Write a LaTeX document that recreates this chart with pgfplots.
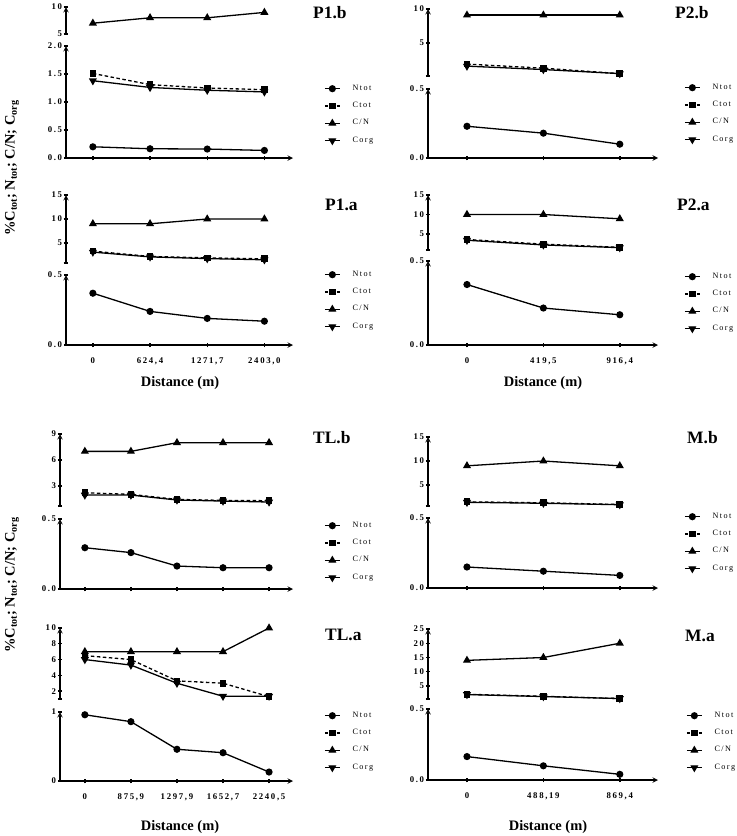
\documentclass[border=0pt]{standalone}
\usepackage{fontspec}
\setmainfont{Liberation Serif}
\newfontfamily\tickfont[LetterSpace=19]{Liberation Serif}
\newfontfamily\legfont[LetterSpace=18]{Liberation Serif}
\usepackage{pgfplots}
\pgfplotsset{compat=1.18}
\pgfplotsset{
  brk/.style={scale only axis, clip=false,
    axis line style={line width=1.4bp,-},
    tick style={line width=1.4bp, black}, tick align=outside, major tick length=4.5bp,
    yticklabel style={font=\tickfont\bfseries\fontsize{8.8}{9}\selectfont, inner sep=1.5bp},
    xticklabel style={font=\tickfont\bfseries\fontsize{8.8}{9}\selectfont, inner sep=2bp, yshift=-8bp},
    /pgf/number format/assume math mode=true},
  up/.style={brk, axis y line=left, axis x line=none},
  low/.style={brk, axis lines=left,
    legend style={draw=none, fill=none, inner sep=0pt, anchor=north west,
      at={(axis description cs:0,0)}, font=\legfont\fontsize{8.2}{9}\selectfont,
      row sep=8.3bp, nodes={inner sep=0pt, text height=6bp, text depth=3bp},
      /tikz/every odd column/.append style={column sep=12bp}},
    legend cell align=left,
    legend image code/.code={%
      \draw[##1, draw=black, mark=none] (0bp,0bp) -- (15bp,0bp);
      \draw[##1, draw=black] plot coordinates {(7.5bp,0bp)};}},
  ntot/.style={black, line width=1.3bp, solid, mark=*, mark size=2.9bp},
  ctot/.style={black, line width=1.3bp, dash pattern=on 3.5bp off 2.5bp, mark=square*, mark size=2.7bp, mark options={solid}},
  cn/.style={black, line width=1.3bp, solid, mark=triangle*, mark size=3.4bp},
  corg/.style={black, line width=1.3bp, solid, mark=triangle*, mark size=3.4bp, mark options={rotate=180}},
}
\begin{document}
\begin{tikzpicture}
\path[use as bounding box] (0,0) rectangle (737bp,-836bp);

% ---------------- P1.b
\begin{axis}[up, at={(66bp,-34bp)}, anchor=south west, width=227bp, height=27bp,
  xmin=-0.47, xmax=3.5, ymin=5, ymax=10, ytick={5,10}, yticklabels={5,10}]
\addplot[cn] coordinates {(0,7) (1,8) (2,8) (3,9)};
\end{axis}
\begin{axis}[low, at={(66bp,-158bp)}, anchor=south west, width=227bp, height=112bp,
  xmin=-0.47, xmax=3.5, ymin=0, ymax=2, ytick={0,0.5,1,1.5,2}, yticklabels={0.0,0.5,1.0,1.5,2.0},
  xtick={0,1,2,3}, xticklabels={,,,}, legend style={xshift=258bp, yshift=74bp}]
\addplot[ntot] coordinates {(0,0.20) (1,0.165) (2,0.16) (3,0.135)};
\addplot[ctot] coordinates {(0,1.51) (1,1.31) (2,1.25) (3,1.22)};
\addlegendimage{cn}
\addplot[corg] coordinates {(0,1.38) (1,1.26) (2,1.21) (3,1.18)};
\legend{Ntot,Ctot,C/N,Corg}
\end{axis}

% ---------------- P1.a
\begin{axis}[up, at={(66bp,-263bp)}, anchor=south west, width=227bp, height=68bp,
  xmin=-0.47, xmax=3.5, ymin=0.83, ymax=15, ytick={0.83,5,10,15}, yticklabels={,5,10,15}]
\addplot[ctot] coordinates {(0,3.3) (1,2.2) (2,1.9) (3,1.7)};
\addplot[cn] coordinates {(0,9) (1,9) (2,10) (3,10)};
\addplot[corg] coordinates {(0,3.1) (1,2.1) (2,1.75) (3,1.5)};
\end{axis}
\begin{axis}[low, at={(66bp,-345bp)}, anchor=south west, width=227bp, height=70bp,
  xmin=-0.47, xmax=3.5, ymin=0, ymax=0.5, ytick={0,0.5}, yticklabels={0.0,0.5},
  xtick={0,1,2,3}, xticklabels={0,{624,4},{1271,7},{2403,0}}, legend style={xshift=258bp, yshift=75bp}]
\addplot[ntot] coordinates {(0,0.37) (1,0.24) (2,0.19) (3,0.17)};
\addlegendimage{ctot}
\addlegendimage{cn}
\addlegendimage{corg}
\legend{Ntot,Ctot,C/N,Corg}
\end{axis}

% ---------------- P2.b
\begin{axis}[up, at={(428bp,-76bp)}, anchor=south west, width=230bp, height=67bp,
  xmin=-0.51, xmax=2.5, ymin=0.15, ymax=10, ytick={0.15,5,10}, yticklabels={,5,10}]
\addplot[ctot] coordinates {(0,1.9) (1,1.3) (2,0.5)};
\addplot[cn] coordinates {(0,9.1) (1,9.1) (2,9.1)};
\addplot[corg] coordinates {(0,1.6) (1,1.1) (2,0.5)};
\end{axis}
\begin{axis}[low, at={(428bp,-158bp)}, anchor=south west, width=230bp, height=69bp,
  xmin=-0.51, xmax=2.5, ymin=0, ymax=0.5, ytick={0,0.5}, yticklabels={0.0,0.5},
  xtick={0,1,2}, xticklabels={,,}, legend style={xshift=256bp, yshift=75bp}]
\addplot[ntot] coordinates {(0,0.23) (1,0.18) (2,0.10)};
\addlegendimage{ctot}
\addlegendimage{cn}
\addlegendimage{corg}
\legend{Ntot,Ctot,C/N,Corg}
\end{axis}

% ---------------- P2.a
\begin{axis}[up, at={(428bp,-250bp)}, anchor=south west, width=230bp, height=55bp,
  xmin=-0.51, xmax=2.5, ymin=0.9, ymax=15, ytick={0.9,5,10,15}, yticklabels={,5,10,15}]
\addplot[ctot] coordinates {(0,3.6) (1,2.4) (2,1.6)};
\addplot[cn] coordinates {(0,10) (1,10) (2,8.9)};
\addplot[corg] coordinates {(0,3.4) (1,2.2) (2,1.5)};
\end{axis}
\begin{axis}[low, at={(428bp,-345bp)}, anchor=south west, width=230bp, height=84bp,
  xmin=-0.51, xmax=2.5, ymin=0, ymax=0.5, ytick={0,0.5}, yticklabels={0.0,0.5},
  xtick={0,1,2}, xticklabels={0,{419,5},{916,4}}, legend style={xshift=256bp, yshift=73bp}]
\addplot[ntot] coordinates {(0,0.36) (1,0.22) (2,0.18)};
\addlegendimage{ctot}
\addlegendimage{cn}
\addlegendimage{corg}
\legend{Ntot,Ctot,C/N,Corg}
\end{axis}

% ---------------- TL.b
\begin{axis}[up, at={(60bp,-506bp)}, anchor=south west, width=233bp, height=72bp,
  xmin=-0.54, xmax=4.52, ymin=0.7, ymax=9, ytick={0.7,3,6,9}, yticklabels={,3,6,9}]
\addplot[ctot] coordinates {(0,2.23) (1,2.04) (2,1.46) (3,1.35) (4,1.31)};
\addplot[cn] coordinates {(0,7) (1,7) (2,8) (3,8) (4,8)};
\addplot[corg] coordinates {(0,1.96) (1,1.96) (2,1.39) (3,1.27) (4,1.16)};
\end{axis}
\begin{axis}[low, at={(60bp,-589bp)}, anchor=south west, width=233bp, height=70bp,
  xmin=-0.54, xmax=4.52, ymin=0, ymax=0.5, ytick={0,0.5}, yticklabels={0.0,0.5},
  xtick={0,1,2,3,4}, xticklabels={,,,,}, legend style={xshift=264bp, yshift=68bp}]
\addplot[ntot] coordinates {(0,0.295) (1,0.26) (2,0.164) (3,0.152) (4,0.152)};
\addlegendimage{ctot}
\addlegendimage{cn}
\addlegendimage{corg}
\legend{Ntot,Ctot,C/N,Corg}
\end{axis}

% ---------------- TL.a
\begin{axis}[up, at={(60bp,-699bp)}, anchor=south west, width=233bp, height=71bp,
  xmin=-0.54, xmax=4.52, ymin=1, ymax=10, ytick={1,2,4,6,8,10}, yticklabels={,2,4,6,8,10}]
\addplot[ctot] coordinates {(0,6.5) (1,6.0) (2,3.3) (3,3.0) (4,1.3)};
\addplot[cn] coordinates {(0,7) (1,7) (2,7) (3,7) (4,10)};
\addplot[corg] coordinates {(0,6.0) (1,5.3) (2,3.0) (3,1.35) (4,1.35)};
\end{axis}
\begin{axis}[low, at={(60bp,-781bp)}, anchor=south west, width=233bp, height=69bp,
  xmin=-0.54, xmax=4.52, ymin=0, ymax=1, ytick={0,1}, yticklabels={0,1},
  xtick={0,1,2,3,4}, xticklabels={0,{875,9},{1297,9},{1652,7},{2240,5}}, legend style={xshift=264bp, yshift=70bp}]
\addplot[ntot] coordinates {(0,0.96) (1,0.86) (2,0.46) (3,0.41) (4,0.13)};
\addlegendimage{ctot}
\addlegendimage{cn}
\addlegendimage{corg}
\legend{Ntot,Ctot,C/N,Corg}
\end{axis}

% ---------------- M.b
\begin{axis}[up, at={(428bp,-506bp)}, anchor=south west, width=230bp, height=69bp,
  xmin=-0.51, xmax=2.5, ymin=0.63, ymax=15, ytick={0.63,5,10,15}, yticklabels={,5,10,15}]
\addplot[ctot] coordinates {(0,1.5) (1,1.3) (2,0.95)};
\addplot[cn] coordinates {(0,9) (1,10) (2,9)};
\addplot[corg] coordinates {(0,1.4) (1,1.2) (2,0.9)};
\end{axis}
\begin{axis}[low, at={(428bp,-588bp)}, anchor=south west, width=230bp, height=70bp,
  xmin=-0.51, xmax=2.5, ymin=0, ymax=0.5, ytick={0,0.5}, yticklabels={0.0,0.5},
  xtick={0,1,2}, xticklabels={,,}, legend style={xshift=256bp, yshift=76bp}]
\addplot[ntot] coordinates {(0,0.15) (1,0.12) (2,0.09)};
\addlegendimage{ctot}
\addlegendimage{cn}
\addlegendimage{corg}
\legend{Ntot,Ctot,C/N,Corg}
\end{axis}

% ---------------- M.a
\begin{axis}[up, at={(428bp,-699bp)}, anchor=south west, width=230bp, height=70bp,
  xmin=-0.51, xmax=2.5, ymin=0.44, ymax=25, ytick={0.44,5,10,15,20,25}, yticklabels={,5,10,15,20,25}]
\addplot[ctot] coordinates {(0,2.1) (1,1.4) (2,0.6)};
\addplot[cn] coordinates {(0,14) (1,15) (2,20)};
\addplot[corg] coordinates {(0,2.0) (1,1.3) (2,0.6)};
\end{axis}
\begin{axis}[low, at={(428bp,-780bp)}, anchor=south west, width=230bp, height=71bp,
  xmin=-0.51, xmax=2.5, ymin=0, ymax=0.5, ytick={0,0.5}, yticklabels={0.0,0.5},
  xtick={0,1,2}, xticklabels={0,{488,19},{869,4}}, legend style={xshift=258bp, yshift=69bp}]
\addplot[ntot] coordinates {(0,0.165) (1,0.10) (2,0.04)};
\addlegendimage{ctot}
\addlegendimage{cn}
\addlegendimage{corg}
\legend{Ntot,Ctot,C/N,Corg}
\end{axis}

% ---------------- titles and labels
\begin{scope}[font=\bfseries\fontsize{17.5}{18}\selectfont, every node/.style={inner sep=0pt, anchor=west}]
\node at (313bp,-13bp) {P1.b};
\node at (325bp,-205bp) {P1.a};
\node at (675bp,-13bp) {P2.b};
\node at (677bp,-205bp) {P2.a};
\node at (313bp,-438bp) {TL.b};
\node at (325bp,-635bp) {TL.a};
\node at (687bp,-438bp) {M.b};
\node at (685bp,-636bp) {M.a};
\end{scope}
\begin{scope}[font=\bfseries\fontsize{14.5}{15}\selectfont]
\node at (180bp,-383bp) {Distance (m)};
\node at (543bp,-383bp) {Distance (m)};
\node at (180bp,-827bp) {Distance (m)};
\node at (548bp,-827bp) {Distance (m)};
\node[rotate=90] at (12bp,-168bp) {\%C\textsubscript{tot}; N\textsubscript{tot}; C/N; C\textsubscript{org}};
\node[rotate=90] at (12bp,-585bp) {\%C\textsubscript{tot}; N\textsubscript{tot}; C/N; C\textsubscript{org}};
\end{scope}
\end{tikzpicture}
\end{document}
